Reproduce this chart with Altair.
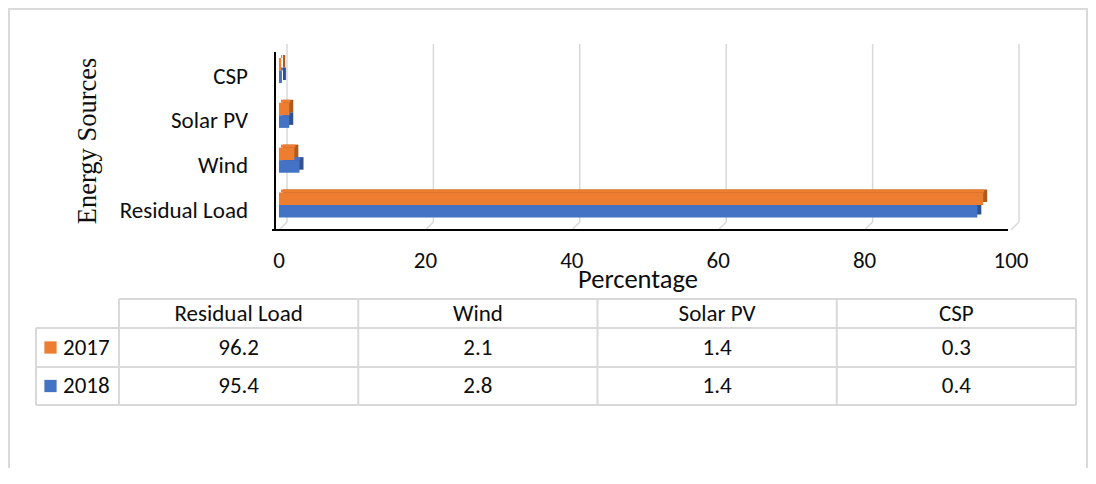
import altair as alt
import pandas as pd

# ---------------- data ----------------
categories = ["Residual Load", "Wind", "Solar PV", "CSP"]
years = ["2017", "2018"]
values_2017 = [96.2, 2.1, 1.4, 0.3]
values_2018 = [95.4, 2.8, 1.4, 0.4]
x_ticks = [0, 20, 40, 60, 80, 100]
x_title = "Percentage"
y_title = "Energy Sources"

# ---------------- styles ----------------
ORANGE, ORANGE_SIDE = "#ED7D31", "#B05A1E"
BLUE, BLUE_SIDE = "#4472C4", "#2F528F"
FRONT = [ORANGE, BLUE]
SIDE = [ORANGE_SIDE, BLUE_SIDE]
GRID = "#D9D9D9"
TEXT = "#0D0D0D"
FONT = "Carlito, Lato, sans-serif"
SERIF = "Liberation Serif, Times New Roman, serif"
FS = 23

# ---------------- layout (plot coordinates) ----------------
W, H = 1080, 460
X_RANGE = [271, 1003]          # 0 .. 100
Y_RANGE = [62.5, 197]          # CSP .. Residual Load (bar boundary)
BAR_T = 0.28                   # bar thickness in category units
DEPTH_X, DEPTH_Y = 4, 3
WALL_TOP, FLOOR_BACK, FLOOR_FRONT = 36, 214, 222
TBL_L, TBL_C0, TBL_R = 28, 111, 1068
ROW_LINES = [291, 320, 359, 397]

xs = alt.Scale(domain=[0, 100], range=X_RANGE, nice=False, zero=False)
ys = alt.Scale(domain=[0, 3], range=Y_RANGE, nice=False, zero=False)

n = len(categories)
rows = []
for yi, (yr, vals) in enumerate(zip(years, [values_2017, values_2018])):
    for ci, (c, v) in enumerate(zip(categories, vals)):
        pos = n - 1 - ci
        y0 = pos - BAR_T if yi == 0 else pos
        rows.append(dict(cat=c, year=yr, value=v, start=0, y0=y0, y1=y0 + BAR_T))
bars = pd.DataFrame(rows)
cats = pd.DataFrame(dict(cat=categories, pos=[n - 1 - i for i in range(n)]))
ticks = pd.DataFrame(dict(v=x_ticks, label=[str(t) for t in x_ticks]))

col_w = (TBL_R - TBL_C0) / n
cells = []
for j, c in enumerate(categories):
    cx = TBL_C0 + col_w * (j + 0.5)
    cells.append(dict(px=cx, py=(ROW_LINES[0] + ROW_LINES[1]) / 2, txt=c))
    for i, vals in enumerate([values_2017, values_2018]):
        cy = (ROW_LINES[i + 1] + ROW_LINES[i + 2]) / 2
        cells.append(dict(px=cx, py=cy, txt=f"{vals[j]:.1f}"))
cells = pd.DataFrame(cells)
legend_rows = pd.DataFrame(dict(
    year=years,
    py=[(ROW_LINES[i + 1] + ROW_LINES[i + 2]) / 2 for i in range(len(years))]))

segs = []
for k, yy in enumerate(ROW_LINES):
    segs.append(dict(x=TBL_C0 if k == 0 else TBL_L, x2=TBL_R, y=yy, y2=yy))
segs.append(dict(x=TBL_L, x2=TBL_L, y=ROW_LINES[1], y2=ROW_LINES[-1]))
for j in range(n + 1):
    xx = TBL_C0 + col_w * j
    segs.append(dict(x=xx, x2=xx, y=ROW_LINES[0], y2=ROW_LINES[-1]))
segs = pd.DataFrame(segs)

one = pd.DataFrame(dict(k=[0]))

# ---------------- layers ----------------
frame = alt.Chart(pd.DataFrame(dict(
    x=[0, 1, W - 1], x2=[W, 1, W - 1], y=[1, 0, 0], y2=[1, H, H]))).mark_rule(
    color=GRID, strokeWidth=2).encode(
    x=alt.X("x:Q", scale=None), x2="x2:Q",
    y=alt.Y("y:Q", scale=None), y2="y2:Q")

table_lines = alt.Chart(segs).mark_rule(color=GRID, strokeWidth=2).encode(
    x=alt.X("x:Q", scale=None), x2="x2:Q",
    y=alt.Y("y:Q", scale=None), y2="y2:Q")

grid = alt.Chart(ticks).mark_rule(color=GRID, strokeWidth=1.5, xOffset=8).encode(
    x=alt.X("v:Q", scale=xs, axis=None),
    y=alt.value(WALL_TOP), y2=alt.value(FLOOR_BACK))

floor = alt.Chart(ticks).mark_rule(color=GRID, strokeWidth=1.5, x2Offset=8).encode(
    x=alt.X("v:Q", scale=xs, axis=None), x2="v:Q",
    y=alt.value(FLOOR_FRONT), y2=alt.value(FLOOR_BACK))

def bar_layer(colors, y2field="y1:Q", **mk):
    return alt.Chart(bars).mark_rect(**mk).encode(
        x=alt.X("start:Q", scale=xs, axis=None), x2="value:Q",
        y=alt.Y("y0:Q", scale=ys, axis=None), y2=y2field,
        color=alt.Color("year:N", scale=alt.Scale(domain=years, range=colors), legend=None))

back = bar_layer(SIDE, xOffset=DEPTH_X, x2Offset=DEPTH_X, yOffset=-DEPTH_Y, y2Offset=-DEPTH_Y)
top = bar_layer(FRONT, y2field="y0:Q", xOffset=2, x2Offset=1, yOffset=-DEPTH_Y)
front = bar_layer(FRONT)

axis_v = alt.Chart(one).mark_rule(color="#000000", strokeWidth=2).encode(
    x=alt.value(X_RANGE[0] - 4), y=alt.value(WALL_TOP + 8), y2=alt.value(FLOOR_FRONT))
axis_h = alt.Chart(one).mark_rule(color="#000000", strokeWidth=2).encode(
    x=alt.value(X_RANGE[0] - 7), x2=alt.value(X_RANGE[1] - 3), y=alt.value(FLOOR_FRONT))

tick_labels = alt.Chart(ticks).mark_text(
    font=FONT, fontSize=FS, color=TEXT, align="center", baseline="middle").encode(
    x=alt.X("v:Q", scale=xs, axis=None), y=alt.value(253), text="label:N")

cat_labels = alt.Chart(cats).mark_text(
    font=FONT, fontSize=FS, color=TEXT, align="right", baseline="middle", dy=6).encode(
    x=alt.value(240), y=alt.Y("pos:Q", scale=ys, axis=None), text="cat:N")

xtitle = alt.Chart(pd.DataFrame(dict(t=[x_title]))).mark_text(
    font=FONT, fontSize=26.5, color=TEXT, align="center", baseline="alphabetic").encode(
    x=alt.value(630), y=alt.value(280), text="t:N")

ytitle = alt.Chart(pd.DataFrame(dict(t=[y_title]))).mark_text(
    font=SERIF, fontSize=26.5, color=TEXT, align="center", baseline="middle", angle=270).encode(
    x=alt.value(80), y=alt.value(133), text="t:N")

cell_text = alt.Chart(cells).mark_text(
    font=FONT, fontSize=FS, color=TEXT, align="center", baseline="middle").encode(
    x=alt.X("px:Q", scale=None), y=alt.Y("py:Q", scale=None), text="txt:N")

legend_sq = alt.Chart(legend_rows).mark_square(size=150, opacity=1).encode(
    x=alt.value(42.5), y=alt.Y("py:Q", scale=None),
    color=alt.Color("year:N", scale=alt.Scale(domain=years, range=FRONT), legend=None))

legend_txt = alt.Chart(legend_rows).mark_text(
    font=FONT, fontSize=FS, color=TEXT, align="left", baseline="middle").encode(
    x=alt.value(55), y=alt.Y("py:Q", scale=None), text="year:N")

chart = alt.layer(
    frame, table_lines, grid, floor, back, top, front, axis_v, axis_h,
    tick_labels, cat_labels, xtitle, ytitle, cell_text, legend_sq, legend_txt
).resolve_scale(x="independent", y="independent", color="independent").properties(
    width=W, height=H, padding=0, autosize=alt.AutoSizeParams(type="none"),
    background="white"
).configure_view(stroke=None)

chart.save("out.html", embed_options={"renderer": "svg", "actions": False})
